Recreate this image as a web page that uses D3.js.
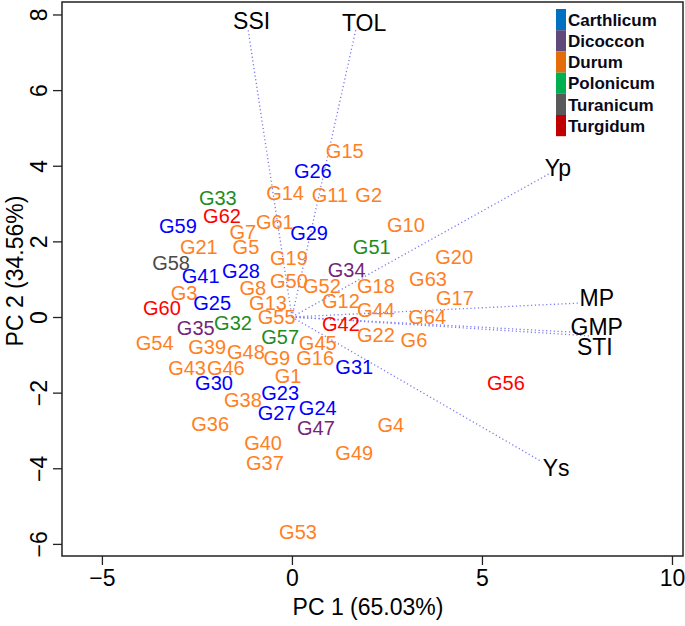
<!DOCTYPE html>
<html>
<head>
<meta charset="utf-8">
<script src="https://cdn.jsdelivr.net/npm/d3@7"></script>
<style>
  html, body { margin: 0; padding: 0; background: #fff; }
  svg { display: block; font-family: "Liberation Sans", Arial, sans-serif; }
</style>
</head>
<body>
<svg id="chart" width="685" height="626"></svg>
<script>
// ---------- data ----------
const genotypes = ["G1","G2","G3","G4","G5","G6","G7","G8","G9","G10","G11","G12","G13","G14","G15","G16",
  "G17","G18","G19","G20","G21","G22","G23","G24","G25","G26","G27","G28","G29","G30","G31","G32",
  "G33","G34","G35","G36","G37","G38","G39","G40","G41","G42","G43","G44","G45","G46","G47","G48",
  "G49","G50","G51","G52","G53","G54","G55","G56","G57","G58","G59","G60","G61","G62","G63","G64"];
const pc1 = [-0.10,2.02,-2.84,2.60,-1.21,3.21,-1.29,-1.03,-0.40,3.00,1.00,1.29,-0.63,-0.18,1.39,0.61,
  4.29,2.21,-0.08,4.27,-2.45,2.21,-0.31,0.68,-2.10,0.55,-0.40,-1.34,0.45,-2.05,1.64,-1.55,
  -1.95,1.44,-2.53,-2.15,-0.71,-1.29,-2.23,-0.76,-2.40,1.29,-2.76,2.21,0.68,-1.74,0.63,-1.21,
  1.64,-0.08,2.10,0.79,0.16,-3.61,-0.40,5.63,-0.31,-3.18,-3.00,-3.42,-0.45,-1.84,3.58,3.56];
const pc2 = [-1.56,3.23,0.63,-2.86,1.85,-0.61,2.25,0.77,-1.08,2.43,3.23,0.42,0.37,3.28,4.39,-1.08,
  0.50,0.82,1.56,1.59,1.85,-0.48,-2.01,-2.41,0.37,3.86,-2.54,1.22,2.22,-1.75,-1.32,-0.16,
  3.15,1.24,-0.29,-2.83,-3.86,-2.19,-0.79,-3.33,1.08,-0.19,-1.35,0.19,-0.69,-1.35,-2.93,-0.93,
  -3.60,0.95,1.85,0.82,-5.68,-0.69,0.00,-1.75,-0.53,1.43,2.41,0.24,2.51,2.67,1.00,0.00];
const species = ["Durum","Durum","Durum","Durum","Durum","Durum","Durum","Durum","Durum","Durum","Durum","Durum","Durum","Durum","Durum","Durum",
  "Durum","Durum","Durum","Durum","Durum","Durum","Carthlicum","Carthlicum","Carthlicum","Carthlicum","Carthlicum","Carthlicum","Carthlicum","Carthlicum","Carthlicum","Polonicum",
  "Polonicum","Dicoccon","Dicoccon","Durum","Durum","Durum","Durum","Durum","Carthlicum","Turgidum","Durum","Durum","Durum","Durum","Dicoccon","Durum",
  "Durum","Durum","Polonicum","Durum","Durum","Durum","Durum","Turgidum","Polonicum","Turanicum","Carthlicum","Turgidum","Durum","Turgidum","Durum","Durum"];

const variables = ["SSI","TOL","Yp","MP","GMP","STI","Ys"];
const loadX = [-1.16, 1.69, 6.79, 7.58, 7.76, 7.84, 6.58];
const loadY = [7.64, 7.64, 3.80, 0.37, -0.42, -0.50, -3.83];
const varLabelX = [-1.06, 1.90, 7.00, 8.02, 8.02, 7.97, 6.95];
const varLabelY = [7.83, 7.77, 3.94, 0.50, -0.26, -0.79, -3.99];

const groups = ["Carthlicum","Dicoccon","Durum","Polonicum","Turanicum","Turgidum"];
const textColors = ["#0000FF","#74267A","#FF7F24","#1E8C1E","#4A4A4A","#FF0000"];
const legendColors = ["#0070C0","#604A7B","#E46C0A","#00B050","#595959","#C00000"];

const xTicks = [-5, 0, 5, 10];
const yTicks = [-6, -4, -2, 0, 2, 4, 6, 8];
const xTitle = "PC 1 (65.03%)";
const yTitle = "PC 2 (34.56%)";

// ---------- layout ----------
const svg = d3.select("#chart");
const pLeft = 62, pRight = 683, pTop = 2, pBottom = 556;
const x = d3.scaleLinear().domain([-6.05, 10.29]).range([pLeft, pRight]);
const y = d3.scaleLinear().domain([-6.32, 8.33]).range([pBottom, pTop]);
const colorText = d3.scaleOrdinal().domain(groups).range(textColors);
const colorLegend = d3.scaleOrdinal().domain(groups).range(legendColors);

// loading vectors (dotted)
svg.append("g").selectAll("line").data(variables).join("line")
  .attr("x1", x(0)).attr("y1", y(0))
  .attr("x2", (d, i) => x(loadX[i])).attr("y2", (d, i) => y(loadY[i]))
  .attr("stroke", "#7878F0").attr("stroke-width", 1.3)
  .attr("stroke-dasharray", "1.2,2.6");

// genotype labels
svg.append("g").selectAll("text").data(genotypes).join("text")
  .attr("x", (d, i) => x(pc1[i])).attr("y", (d, i) => y(pc2[i]))
  .attr("dy", "0.36em").attr("text-anchor", "middle")
  .attr("font-size", 20).attr("fill", (d, i) => colorText(species[i]))
  .text(d => d);

// variable labels
svg.append("g").selectAll("text").data(variables).join("text")
  .attr("x", (d, i) => x(varLabelX[i])).attr("y", (d, i) => y(varLabelY[i]))
  .attr("dy", "0.36em").attr("text-anchor", "middle")
  .attr("font-size", 23).attr("fill", "#000")
  .text(d => d);

// box
svg.append("rect").attr("x", pLeft).attr("y", pTop)
  .attr("width", pRight - pLeft).attr("height", pBottom - pTop)
  .attr("fill", "none").attr("stroke", "#222").attr("stroke-width", 1.5);

// x axis
const xAxis = d3.axisBottom(x).tickValues(xTicks).tickSize(9).tickPadding(5)
  .tickFormat(d => d < 0 ? "\u2212" + Math.abs(d) : d);
const gx = svg.append("g").attr("transform", `translate(0,${pBottom})`).call(xAxis);
gx.select(".domain").remove();
gx.selectAll("line").attr("stroke", "#222").attr("stroke-width", 1.3);
gx.selectAll("text").attr("font-size", 23).attr("fill", "#000")
  .attr("font-family", "Liberation Sans, Arial, sans-serif");

// y axis
const yAxis = d3.axisLeft(y).tickValues(yTicks).tickSize(9).tickPadding(0)
  .tickFormat(d => d < 0 ? "\u2212" + Math.abs(d) : d);
const gy = svg.append("g").attr("transform", `translate(${pLeft},0)`).call(yAxis);
gy.select(".domain").remove();
gy.selectAll("line").attr("stroke", "#222").attr("stroke-width", 1.3);
gy.selectAll("text")
  .attr("x", null).attr("dy", null)
  .attr("transform", "translate(-15,0) rotate(-90)")
  .attr("text-anchor", "middle")
  .attr("font-size", 23).attr("fill", "#000")
  .attr("font-family", "Liberation Sans, Arial, sans-serif");

// titles
svg.append("text").attr("x", 368).attr("y", 615)
  .attr("text-anchor", "middle").attr("font-size", 23).text(xTitle);
svg.append("text")
  .attr("transform", "translate(23,271) rotate(-90)")
  .attr("text-anchor", "middle").attr("font-size", 23).text(yTitle);

// legend
const leg = svg.append("g").attr("transform", "translate(556,9)");
const rowH = 21.2;
leg.selectAll("rect").data(groups).join("rect")
  .attr("x", 0).attr("y", (d, i) => i * rowH)
  .attr("width", 10).attr("height", rowH)
  .attr("fill", d => colorLegend(d));
leg.selectAll("text").data(groups).join("text")
  .attr("x", 12).attr("y", (d, i) => i * rowH + rowH / 2)
  .attr("dy", "0.36em").attr("font-size", 17).attr("font-weight", "bold")
  .attr("fill", "#0a0a1a")
  .text(d => d);
</script>
</body>
</html>
